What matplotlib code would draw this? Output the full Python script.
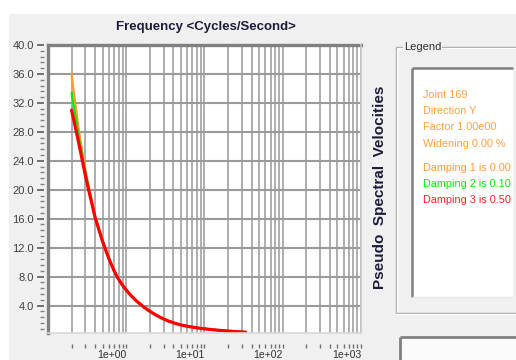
import matplotlib
matplotlib.use("Agg")
import matplotlib.pyplot as plt
from matplotlib.patches import Rectangle
from matplotlib.lines import Line2D
from matplotlib.ticker import MultipleLocator, AutoMinorLocator, LogLocator, NullFormatter, FormatStrFormatter

plt.rcParams['font.family'] = ['Liberation Sans Narrow', 'Liberation Sans', 'DejaVu Sans']

# ---- data: pseudo spectral velocity vs frequency for three damping ratios ----
freq = [0.2, 0.22, 0.24, 0.26, 0.28, 0.3, 0.33, 0.36, 0.4, 0.45, 0.5, 0.56, 0.63, 0.7,
        0.77, 0.87, 1.0, 1.15, 1.35, 1.65, 2.0, 2.4, 2.9, 3.5, 4.2, 5.0, 6.3, 8.0,
        10, 13, 16, 20, 25, 33.6]
psv_damp_000 = [36.0, 32.4, 29.3, 26.8, 24.7, 22.9, 20.5, 18.6, 16.3, 14.5, 12.9, 11.4,
                9.96, 8.85, 7.95, 7.04, 6.17, 5.41, 4.66, 3.87, 3.23, 2.70, 2.24, 1.85,
                1.56, 1.33, 1.11, 0.93, 0.79, 0.655, 0.564, 0.477, 0.40, 0.316]
psv_damp_010 = [33.4, 30.6, 28.1, 26.0, 24.1, 22.5, 20.3, 18.5, 16.25, 14.45, 12.85, 11.37,
                9.94, 8.83, 7.93, 7.03, 6.16, 5.40, 4.65, 3.86, 3.22, 2.69, 2.23, 1.84,
                1.55, 1.32, 1.10, 0.92, 0.785, 0.65, 0.56, 0.475, 0.40, 0.316]
psv_damp_050 = [31.0, 29.0, 27.1, 25.3, 23.6, 22.0, 20.0, 18.3, 16.15, 14.38, 12.8, 11.33,
                9.9, 8.8, 7.9, 7.0, 6.13, 5.37, 4.63, 3.84, 3.2, 2.67, 2.21, 1.83,
                1.54, 1.31, 1.09, 0.91, 0.78, 0.645, 0.555, 0.47, 0.395, 0.31]

series_colors = ['#ff9933', '#00f000', '#ff0000']
series_widths = [1.6, 1.6, 2.3]

decade_ticks = [1, 10, 100, 1000]
decade_labels = ['1e+00', '1e+01', '1e+02', '1e+03']

legend_header = ['Joint 169', 'Direction Y', 'Factor 1.00e00', 'Widening 0.00 %']
legend_damping = ['Damping 1 is 0.00', 'Damping 2 is 0.10', 'Damping 3 is 0.50']
legend_colors = ['#ff9933', '#00f000', '#ff2020']

W, H = 516, 360
fig = plt.figure(figsize=(W / 100, H / 100), dpi=100)
fig.patch.set_facecolor('white')


def fx(x):
    return x / W


def fy(y):
    return 1 - y / H


def fig_line(x0, y0, x1, y1, color, lw, z=1):
    fig.add_artist(Line2D([fx(x0), fx(x1)], [fy(y0), fy(y1)], transform=fig.transFigure,
                          color=color, lw=lw, zorder=z, solid_capstyle='butt'))


# dialog background
fig.add_artist(Rectangle((fx(9), 0), 1, fy(14), transform=fig.transFigure,
                         facecolor='#f0f0f0', edgecolor='none', zorder=-10))

# ---- plot ----
ax = fig.add_axes([fx(48), fy(333), fx(361) - fx(48), fy(45) - fy(333)])
ax.set_facecolor('white')

for vals, c, lw in zip([psv_damp_000, psv_damp_010, psv_damp_050], series_colors, series_widths):
    ax.plot(freq, vals, color=c, lw=lw, zorder=3, solid_capstyle='round', solid_joinstyle='round')

ax.set_xscale('log')
ax.set_xlim(0.1, 1000)
ax.set_ylim(0.2, 40)

ax.xaxis.set_minor_locator(LogLocator(base=10, subs=range(2, 10), numticks=100))
ax.xaxis.set_minor_formatter(NullFormatter())
ax.set_xticks(decade_ticks)
ax.set_xticklabels(decade_labels)

ax.yaxis.set_major_locator(MultipleLocator(4))
ax.yaxis.set_minor_locator(AutoMinorLocator(5))
ax.yaxis.set_major_formatter(FormatStrFormatter('%.1f'))

ax.grid(True, which='both', axis='x', color='#a8a8a8', lw=1.3, zorder=1)
ax.grid(True, which='major', axis='y', color='#9a9a9a', lw=1.5, zorder=1)
ax.set_axisbelow(True)

# ticks sit slightly away from the frame
ax.spines['bottom'].set_position(('outward', 8))
ax.spines['left'].set_position(('outward', 3))
for s in ax.spines.values():
    s.set_visible(False)

ax.tick_params(axis='x', which='both', direction='out', length=3, width=1,
               color='#707070', pad=1, labelsize=7.5, labelcolor='#303030')
ax.tick_params(axis='y', which='major', direction='out', length=5, width=1.4,
               color='#707070', pad=2, labelsize=8, labelcolor='#404040')
ax.tick_params(axis='y', which='minor', direction='out', length=3, width=1, color='#808080')
for lbl in ax.get_xticklabels():
    lbl.set_horizontalalignment('right')

# sunken frame around the plotting area
frame = [((0, 0), (0, 1), '#808080', 2.4), ((0, 1), (1, 1), '#808080', 2.4),
         ((1, 1), (1, 0), '#c8c8c8', 1.2), ((0, 0), (1, 0), '#d8d8d8', 1.2)]
for (a, b, c, lw) in frame:
    ax.add_line(Line2D([a[0], b[0]], [a[1], b[1]], transform=ax.transAxes,
                       color=c, lw=lw, clip_on=False, zorder=5))

fig.text(fx(206), fy(27), 'Frequency <Cycles/Second>', ha='center', va='center',
         fontsize=9.5, fontweight='bold', color='#1c1c3a')
fig.text(fx(380), fy(187), 'Pseudo  Spectral  Velocities', rotation=90, ha='center', va='center',
         fontsize=11, fontweight='bold', color='#1c1c3a')

# ---- legend group box ----
gx0, gy0, gy1 = 396, 47, 313
fig_line(gx0, gy0, 530, gy0, '#a0a0a0', 1)
fig_line(gx0 + 1, gy0 + 1, 530, gy0 + 1, 'white', 1)
fig_line(gx0, gy0, gx0, gy1, '#a0a0a0', 1)
fig_line(gx0 + 1, gy0 + 1, gx0 + 1, gy1, 'white', 1)
fig_line(gx0, gy1, 530, gy1, '#a0a0a0', 1)
fig_line(gx0, gy1 + 1, 530, gy1 + 1, 'white', 1)
fig.text(fx(404), fy(47), 'Legend', ha='left', va='center', fontsize=8, color='#303030',
         bbox=dict(facecolor='#f0f0f0', edgecolor='none', pad=0.6), zorder=3)

# white list box
fig.add_artist(Rectangle((fx(412), fy(297)), fx(513) - fx(412), fy(68) - fy(297),
                         transform=fig.transFigure, facecolor='white', edgecolor='none', zorder=0))
fig_line(412, 68, 513, 68, '#808080', 1.8, 2)
fig_line(412, 68, 412, 297, '#808080', 1.8, 2)
fig_line(412, 297, 513, 297, '#e8e8e8', 1, 2)

for i, t in enumerate(legend_header):
    fig.text(fx(423), fy(95 + 16.2 * i), t, ha='left', va='center', fontsize=7.8, color='#ffa040')
for i, (t, c) in enumerate(zip(legend_damping, legend_colors)):
    fig.text(fx(423), fy(168 + 15.8 * i), t, ha='left', va='center', fontsize=7.8, color=c)

# lower box
fig.add_artist(Rectangle((fx(400), 0), 1, fy(337), transform=fig.transFigure,
                         facecolor='#fafafa', edgecolor='none', zorder=0))
fig_line(400, 337, 530, 337, '#808080', 2, 2)
fig_line(400, 337, 400, 370, '#808080', 2, 2)

fig.savefig('out.png', dpi=100, facecolor=fig.get_facecolor())
